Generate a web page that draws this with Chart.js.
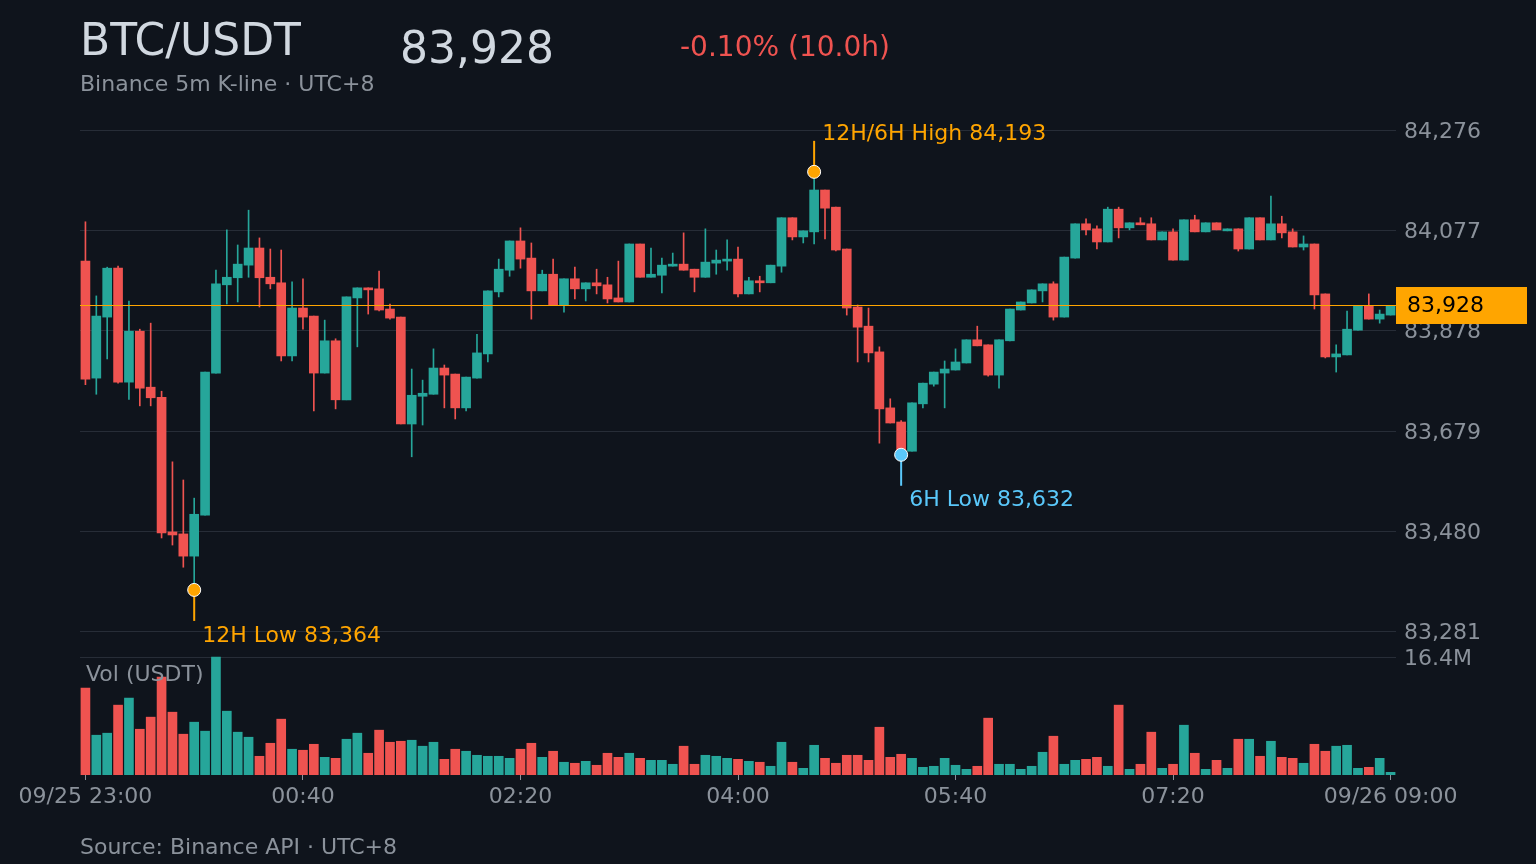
<!DOCTYPE html>
<html><head><meta charset="utf-8">
<script src="https://cdn.jsdelivr.net/npm/chart.js@4.4.1/dist/chart.umd.min.js"></script>
<style>
html,body{margin:0;padding:0;background:#0f141c;overflow:hidden;}
#wrap{position:relative;width:1536px;height:864px;background:#0f141c;}
canvas{position:absolute;left:0;top:0;}
.t{position:absolute;font-family:"DejaVu Sans",sans-serif;line-height:1;white-space:nowrap;}
</style></head>
<body><div id="wrap">
<canvas id="c" width="1536" height="864"></canvas>
<div class="t" style="left:80px;top:18px;font-size:44px;color:#d1d8e0">BTC/USDT</div>
<div class="t" id="lastPrice" style="left:400px;top:26px;font-size:44px;color:#d1d8e0">83,928</div>
<div class="t" id="pct" style="left:680px;top:33px;font-size:28px;color:#ef5350">-0.10% (10.0h)</div>
<div class="t" style="left:80px;top:73px;font-size:22px;color:#8b929b">Binance 5m K-line · UTC+8</div>
<div class="t" style="left:80px;top:836px;font-size:22px;color:#8b929b">Source: Binance API · UTC+8</div>
</div>
<script>
// ---------- data ----------
const times = [
'23:00','23:05','23:10','23:15','23:20','23:25','23:30','23:35','23:40','23:45','23:50','23:55',
'00:00','00:05','00:10','00:15','00:20','00:25','00:30','00:35','00:40','00:45','00:50','00:55',
'01:00','01:05','01:10','01:15','01:20','01:25','01:30','01:35','01:40','01:45','01:50','01:55',
'02:00','02:05','02:10','02:15','02:20','02:25','02:30','02:35','02:40','02:45','02:50','02:55',
'03:00','03:05','03:10','03:15','03:20','03:25','03:30','03:35','03:40','03:45','03:50','03:55',
'04:00','04:05','04:10','04:15','04:20','04:25','04:30','04:35','04:40','04:45','04:50','04:55',
'05:00','05:05','05:10','05:15','05:20','05:25','05:30','05:35','05:40','05:45','05:50','05:55',
'06:00','06:05','06:10','06:15','06:20','06:25','06:30','06:35','06:40','06:45','06:50','06:55',
'07:00','07:05','07:10','07:15','07:20','07:25','07:30','07:35','07:40','07:45','07:50','07:55',
'08:00','08:05','08:10','08:15','08:20','08:25','08:30','08:35','08:40','08:45','08:50','08:55',
'09:00'];

const opens = [
84016,83784,83905,84002,83776,83877,83766,83746,83479,83475,83431,83512,
83794,83969,83983,84008,84042,83984,83973,83828,83923,83907,83794,83858,
83741,83943,83963,83961,83921,83905,83693,83748,83752,83804,83792,83725,
83784,83832,83955,83998,84056,84022,83957,83990,83929,83981,83961,83973,
83969,83943,83935,84050,83984,83988,84006,84010,84000,83984,84012,84016,
84020,83951,83977,83973,84006,84102,84064,84074,84157,84123,84040,83925,
83887,83836,83725,83697,83639,83733,83772,83794,83800,83814,83860,83850,
83790,83858,83919,83933,83957,83971,83905,84022,84090,84080,84054,84119,
84082,84092,84090,84058,84074,84018,84098,84074,84092,84076,84080,84040,
84102,84058,84090,84074,84044,84050,83951,83826,83830,83879,83927,83901,
83909];
const highs = [
84094,83947,84004,84006,83937,83881,83893,83758,83618,83582,83546,83796,
83998,84078,84048,84117,84062,84040,84038,83975,83981,83907,83899,83862,
83945,83963,83963,83996,83931,83905,83802,83780,83842,83810,83792,83786,
83871,83957,84020,84056,84082,84052,83998,84020,83981,84004,83973,84000,
83984,84016,84050,84050,84042,84022,84032,84072,84000,84080,84038,84058,
84044,83984,83986,84008,84102,84102,84076,84193,84157,84123,84040,83929,
83923,83846,83743,83700,83735,83774,83796,83818,83842,83860,83887,83850,
83860,83921,83935,83959,83971,83975,84024,84090,84100,84086,84123,84123,
84092,84102,84102,84074,84080,84098,84107,84092,84092,84080,84080,84102,
84102,84145,84105,84080,84066,84050,83951,83850,83917,83927,83951,83919,
83928];
const lows = [
83771,83752,83822,83774,83742,83729,83729,83467,83453,83409,83364,83512,
83794,83931,83935,83984,83925,83961,83818,83818,83881,83719,83794,83723,
83741,83846,83911,83917,83901,83693,83628,83691,83752,83725,83703,83719,
83784,83816,83945,83986,84002,83901,83957,83929,83915,83941,83937,83951,
83933,83935,83935,83984,83984,83953,84006,83998,83955,83984,83990,83998,
83945,83951,83955,83973,83994,84058,84052,84050,84060,84036,83909,83816,
83816,83655,83695,83632,83639,83725,83768,83725,83800,83814,83848,83788,
83764,83858,83919,83933,83935,83899,83905,84022,84068,84040,84054,84062,
84078,84088,84058,84058,84018,84018,84074,84074,84078,84076,84036,84040,
84058,84058,84062,84044,84038,83921,83824,83796,83830,83879,83901,83893,
83909];
const closes = [
83782,83907,84002,83776,83877,83764,83745,83477,83473,83431,83514,83796,
83971,83984,84010,84042,83983,83971,83828,83923,83905,83794,83858,83741,
83945,83963,83959,83919,83903,83693,83750,83754,83804,83790,83725,83786,
83834,83957,84000,84056,84020,83957,83990,83929,83981,83961,83973,83967,
83941,83935,84050,83984,83990,84008,84010,83998,83984,84014,84018,84020,
83951,83977,83973,84008,84102,84064,84076,84157,84121,84038,83923,83885,
83834,83723,83695,83640,83735,83774,83796,83802,83816,83860,83848,83790,
83860,83921,83935,83959,83971,83905,84024,84090,84078,84054,84119,84082,
84092,84088,84058,84074,84018,84098,84074,84092,84078,84080,84040,84102,
84058,84090,84072,84044,84050,83949,83826,83832,83881,83927,83901,83911,
83928];
// volume in million USDT
const volumes = [
12.08,5.53,5.81,9.71,10.69,6.36,8.04,13.61,8.73,5.67,7.34,6.09,
16.40,8.87,5.95,5.25,2.60,4.41,7.76,3.58,3.44,4.27,2.46,2.32,
4.97,5.81,3.02,6.23,4.55,4.69,4.83,4.00,4.55,2.18,3.58,3.30,
2.74,2.60,2.60,2.32,3.58,4.41,2.46,3.30,1.77,1.63,1.90,1.35,
3.02,2.46,3.02,2.32,2.04,2.04,1.49,4.00,1.49,2.74,2.60,2.32,
2.18,1.90,1.77,1.21,4.55,1.77,0.93,4.13,2.32,1.63,2.74,2.74,
2.04,6.64,2.46,2.88,2.32,1.07,1.21,2.32,1.35,0.79,1.21,7.90,
1.49,1.49,0.79,1.21,3.16,5.39,1.49,2.04,2.18,2.46,1.21,9.71,
0.79,1.49,5.95,0.93,1.49,6.92,3.02,0.79,2.04,0.93,4.97,4.97,
2.60,4.69,2.46,2.32,1.63,4.27,3.30,4.00,4.13,0.93,1.07,2.32,
0.37];

const tickIdx = [0,20,40,60,80,100,120];
const tickLabels = ['09/25 23:00','00:40','02:20','04:00','05:40','07:20','09/26 09:00'];
const priceTicks = [84276,84077,83878,83679,83480,83281];
const volTick = 16.4;       // million, top of volume panel
const volTickLabel = '16.4M';

const markerIdx   = [67, 10, 75];
const markerPrice = [84193, 83364, 83632];
const markerName  = ['12H/6H High', '12H Low', '6H Low'];
const markerDir   = [-1, 1, 1];          // -1 pin up, 1 pin down
const markerColor = ['#ffa500', '#ffa500', '#5ac8fa'];

// ---------- styling ----------
const UP = '#26a69a', DOWN = '#ef5350';
const GRID = '#272d37', TXT = '#8b929b';
const FONT = "'DejaVu Sans', sans-serif";
const PRICE_MIN = 82997, PRICE_MAX = 84276;
const AREA_TOP = 130, AREA_BOTTOM = 775, VOL_PANEL_TOP = 657;
const VOL_MAX = volTick * (AREA_BOTTOM - AREA_TOP) / (AREA_BOTTOM - VOL_PANEL_TOP);

const fmt = v => Math.round(v).toLocaleString('en-US');
const last = closes[closes.length - 1];
const pct = (last - opens[0]) / opens[0] * 100;
document.getElementById('lastPrice').textContent = fmt(last);
document.getElementById('pct').textContent = (pct < 0 ? '-' : '+') + Math.abs(pct).toFixed(2) + '% (10.0h)';

const colors = closes.map((c, i) => c >= opens[i] ? UP : DOWN);

Chart.defaults.font.family = FONT;

const overlay = {
  id: 'overlay',
  beforeDatasetsDraw(chart) {
    const {ctx, chartArea: a, scales: {yv}} = chart;
    const vy = Math.round(yv.getPixelForValue(volTick)) + 0.5;
    ctx.save();
    ctx.strokeStyle = GRID; ctx.lineWidth = 1;
    ctx.beginPath(); ctx.moveTo(a.left, vy); ctx.lineTo(a.right, vy); ctx.stroke();
    ctx.restore();
  },
  afterDatasetsDraw(chart) {
    const {ctx, chartArea: a, scales: {x, y, yv}} = chart;
    ctx.save();
    // volume caption
    ctx.font = '22px ' + FONT; ctx.fillStyle = TXT;
    ctx.textBaseline = 'middle'; ctx.textAlign = 'left';
    ctx.fillText('Vol (USDT)', a.left + 6, yv.getPixelForValue(volTick) + 18);
    // last price line
    const py = Math.round(y.getPixelForValue(last)) + 0.5;
    ctx.strokeStyle = '#ffa500'; ctx.lineWidth = 1;
    ctx.beginPath(); ctx.moveTo(a.left, py); ctx.lineTo(a.right, py); ctx.stroke();
    // markers
    ctx.font = '22px ' + FONT;
    markerIdx.forEach((idx, k) => {
      const mx = x.getPixelForValue(idx);
      const my = y.getPixelForValue(markerPrice[k]);
      const d = markerDir[k];
      ctx.strokeStyle = markerColor[k]; ctx.lineWidth = 2;
      ctx.beginPath(); ctx.moveTo(mx, my); ctx.lineTo(mx, my + d * 31); ctx.stroke();
      ctx.beginPath(); ctx.arc(mx, my, 6.5, 0, Math.PI * 2);
      ctx.fillStyle = markerColor[k]; ctx.fill();
      ctx.strokeStyle = '#ffffff'; ctx.lineWidth = 1; ctx.stroke();
      ctx.fillStyle = markerColor[k];
      ctx.textBaseline = 'middle'; ctx.textAlign = 'left';
      ctx.fillText(markerName[k] + ' ' + fmt(markerPrice[k]), mx + 8, my + (d < 0 ? -38 : 46));
    });
    ctx.restore();
  },
  afterDraw(chart) {
    const {ctx, chartArea: a, scales: {y, yv}} = chart;
    ctx.save();
    ctx.font = '22px ' + FONT; ctx.fillStyle = TXT;
    ctx.textBaseline = 'middle'; ctx.textAlign = 'left';
    ctx.fillText(volTickLabel, a.right + 8, yv.getPixelForValue(volTick) + 2);
    const py = y.getPixelForValue(last);
    ctx.fillStyle = '#ffa500';
    ctx.fillRect(a.right, py - 18.5, 131, 37);
    ctx.fillStyle = '#000000'; ctx.font = '22px ' + FONT;
    ctx.fillText(fmt(last), a.right + 11, py + 1);
    ctx.restore();
  }
};

new Chart(document.getElementById('c'), {
  type: 'bar',
  data: {
    labels: times,
    datasets: [
      { label: 'wick', data: lows.map((l, i) => [l, highs[i]]), backgroundColor: colors,
        barThickness: 1, grouped: false, yAxisID: 'y', borderWidth: 0, order: 2 },
      { label: 'body', data: opens.map((o, i) => [o, closes[i]]), backgroundColor: colors,
        barThickness: 9, minBarLength: 2, grouped: false, yAxisID: 'y', borderWidth: 0, order: 1 },
      { label: 'volume', data: volumes, backgroundColor: colors,
        barThickness: 9, grouped: false, yAxisID: 'yv', borderWidth: 0, order: 3 }
    ]
  },
  options: {
    responsive: false,
    animation: false,
    events: [],
    layout: { padding: { left: 80, top: AREA_TOP, right: 0, bottom: 0 } },
    plugins: { legend: { display: false }, tooltip: { enabled: false } },
    scales: {
      x: {
        offset: true,
        grid: { display: true, offset: false, drawOnChartArea: false, drawTicks: true, tickLength: 5, color: TXT },
        border: { display: false },
        ticks: { color: TXT, font: { size: 22 }, autoSkip: false, maxRotation: 0, padding: 4,
                 callback: v => tickLabels[tickIdx.indexOf(v)] },
        afterBuildTicks: s => { s.ticks = tickIdx.map(v => ({ value: v })); },
        afterFit: s => { s.height = 864 - AREA_BOTTOM; }
      },
      y: {
        position: 'right', min: PRICE_MIN, max: PRICE_MAX,
        grid: { color: GRID, drawTicks: false },
        border: { display: false },
        ticks: { color: TXT, font: { size: 22 }, padding: 8, labelOffset: 2, callback: v => fmt(v) },
        afterBuildTicks: s => { s.ticks = priceTicks.map(v => ({ value: v })); },
        afterFit: s => { s.width = 140; }
      },
      yv: { display: false, min: 0, max: VOL_MAX }
    }
  },
  plugins: [overlay]
});
</script>
</body></html>
